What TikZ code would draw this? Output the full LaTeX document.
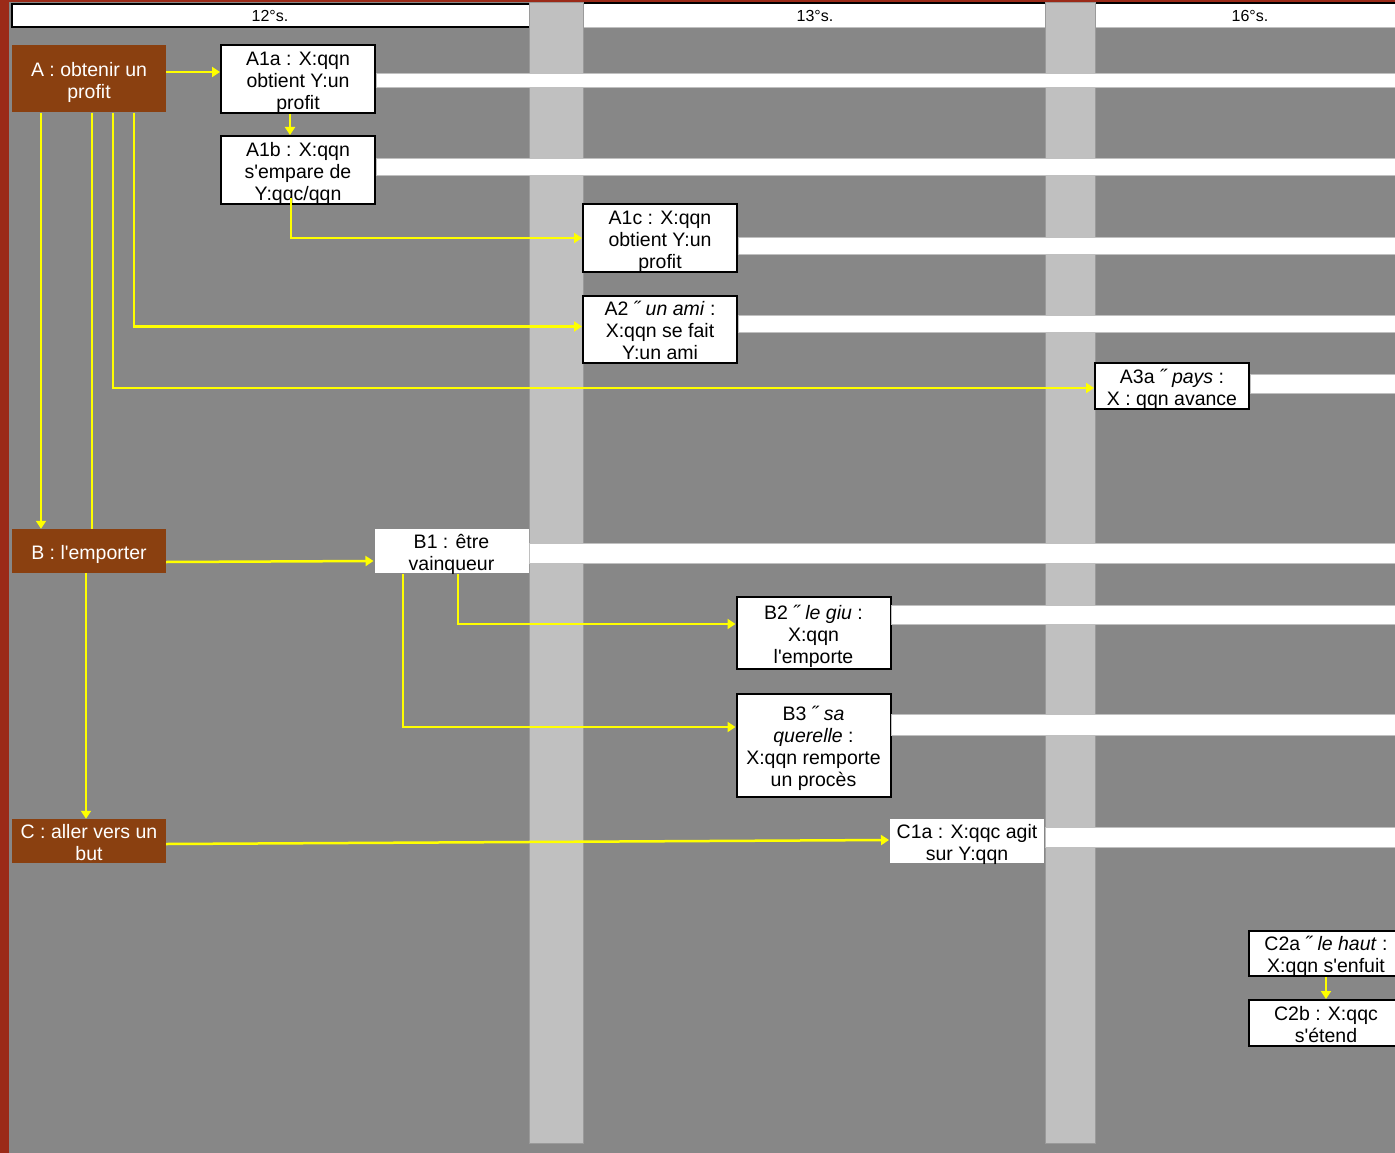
\documentclass[tikz,border=0pt]{standalone}
\usepackage{fontspec}
\setmainfont{Liberation Sans}[Ligatures=TeXOff]
\usepackage{xcolor}
\usetikzlibrary{positioning, arrows.meta}

\definecolor{bgGray}{HTML}{878787}
\definecolor{colGray}{HTML}{C0C0C0}
\definecolor{edgeRed}{HTML}{9B2A18}
\definecolor{goalBrown}{HTML}{8A4010}
\definecolor{linkYellow}{HTML}{FFFF00}

\newcommand{\boxtext}[1]{\raisebox{-4pt}[\height][\depth]{\begin{tabular}{@{}c@{}}#1\end{tabular}}}

\begin{document}
\begin{tikzpicture}[x=1pt, y=-1pt,
    goal/.style={fill=goalBrown, text=white, minimum width=154pt, inner sep=0pt, font=\fontsize{19.5}{22}\selectfont},
    sense/.style={draw=black, line width=2pt, fill=white, minimum width=154pt, inner sep=0pt, font=\fontsize{19.5}{22}\selectfont},
    plain/.style={sense, draw=none},
    period/.style={font=\fontsize{16}{18}\selectfont},
    link/.style={draw=linkYellow, line width=2.5pt, -{Triangle[length=8pt,width=10pt]}},
    lane/.style={fill=white, draw=colGray, line width=0.5pt}
]
\useasboundingbox (0,0) rectangle (1395,1153);
\fill[bgGray] (0,0) rectangle (1395,1153);
\fill[edgeRed] (0,0) rectangle (9,1153);
\fill[edgeRed] (0,0) rectangle (1395,2);

% header
\fill[white] (12,3) rectangle (1395,27);
\draw[line width=2pt] (12,4) rectangle (530,27);
\draw[line width=2pt] (583,3) -- (1395,3);
\fill[colGray] (583,27) rectangle (1395,28);
\draw[colGray!80!black, line width=0.5pt, fill=colGray] (529,2) rectangle (583,1143);
\draw[colGray!80!black, line width=0.5pt, fill=colGray] (1045,2) rectangle (1095,1143);
\node[period] (s12) at (270,16) {12°s.};
\node[period] (s13) at (815,16) {13°s.};
\node[period] (s16) at (1250,16) {16°s.};

% goals
\node[goal, minimum height=67pt] (objA) at (89,79) {\boxtext{A : obtenir un\\profit}};
\node[goal, minimum height=44pt] (objB) at (89,551) {\boxtext{B : l'emporter}};
\node[goal, minimum height=43pt] (objC) at (89,841) {\boxtext{C : aller vers un\\but}};

% senses
\node[sense, minimum height=68pt] (a1a) at (298,79) {\boxtext{A1a : X:qqn\\obtient Y:un\\profit}};
\node[sense, minimum height=68pt] (a1b) at (298,170) {\boxtext{A1b : X:qqn\\s'empare de\\Y:qqc/qqn}};
\node[sense, minimum height=68pt] (a1c) at (660,238) {\boxtext{A1c : X:qqn\\obtient Y:un\\profit}};
\node[sense, minimum height=67pt] (a2) at (660,329.5) {\boxtext{A2 ˝ \textit{un ami} :\\X:qqn se fait\\Y:un ami}};
\node[sense, minimum height=46pt] (a3a) at (1172,386) {\boxtext{A3a ˝ \textit{pays} :\\X : qqn avance}};
\node[plain, minimum height=44pt] (b1) at (451.5,551) {\boxtext{B1 : être\\vainqueur}};
\node[sense, minimum height=72pt] (b2) at (813.5,633) {\boxtext{B2 ˝ \textit{le giu} :\\X:qqn\\l'emporte}};
\node[sense, minimum height=103pt] (b3) at (813.5,745.5) {\boxtext{B3 ˝ \textit{sa}\\\textit{querelle} :\\X:qqn remporte\\un procès}};
\node[plain, minimum height=43pt] (c1a) at (967,841) {\boxtext{C1a : X:qqc agit\\sur Y:qqn}};
\node[sense, minimum height=45pt] (c2a) at (1326,953.5) {\boxtext{C2a ˝ \textit{le haut} :\\X:qqn s'enfuit}};
\node[sense, minimum height=46pt] (c2b) at (1326,1023) {\boxtext{C2b : X:qqc\\s'étend}};

% lanes
\foreach \src/\ya/\yb in {a1a/73/87, a1b/158/175, a1c/237/254, a2/315/332, a3a/374/393, b1/543/563, b2/605/624, b3/714/735, c1a/827/847}
  \filldraw[lane] (\src.east |- 0,\ya) rectangle (1395,\yb);

% links
\draw[link] ([yshift=7pt]objA.east) -- ([yshift=7pt]a1a.west);
\draw[link] ([xshift=-8pt]a1a.south) -- ([xshift=-8pt]a1b.north);
\draw[link] ([xshift=-7pt,yshift=7pt]a1b.south) |- (a1c.west);
\draw[link] ([xshift=45pt]objA.south) |- ([yshift=3pt]a2.west);
\draw[link] ([xshift=24pt]objA.south) |- ([yshift=-2pt]a3a.west);
\draw[link] ([xshift=-48pt]objA.south) -- ([xshift=-48pt]objB.north);
\draw[link, -] ([xshift=3pt]objA.south) -- ([xshift=3pt]objB.north);
\draw[link] ([yshift=-11pt]objB.east) -- ([yshift=-10pt]b1.west);
\draw[link] ([xshift=-3pt]objB.south) -- ([xshift=-3pt]objC.north);
\draw[link] ([xshift=6.5pt]b1.south) |- ([yshift=9pt]b2.west);
\draw[link] ([xshift=-48.5pt]b1.south) |- ([yshift=18.5pt]b3.west);
\draw[link] ([yshift=-3pt]objC.east) -- ([yshift=1pt]c1a.west);
\draw[link] (c2a.south) -- (c2b.north);
\end{tikzpicture}
\end{document}
